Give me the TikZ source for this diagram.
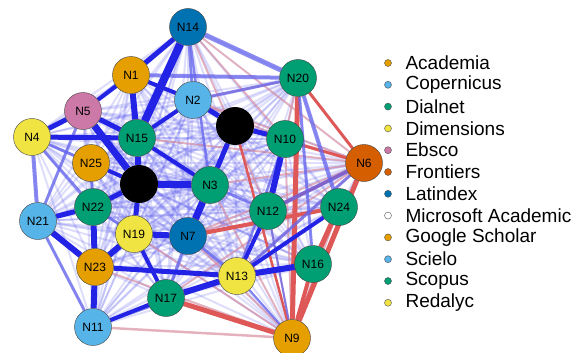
\documentclass[tikz,border=0pt]{standalone}
\usepackage{fontspec}
\setmainfont{Liberation Sans}
\usetikzlibrary{positioning}

\definecolor{gsorange}{HTML}{E69F00}
\definecolor{copblue}{HTML}{56B4E9}
\definecolor{dialgreen}{HTML}{009E73}
\definecolor{dimyellow}{HTML}{F0E442}
\definecolor{ebpink}{HTML}{CC79A7}
\definecolor{frorange}{HTML}{D55E00}
\definecolor{latblue}{HTML}{0072B2}
\definecolor{eblue}{RGB}{35,35,230}
\definecolor{ered}{RGB}{222,88,88}

\pgfdeclarelayer{links}
\pgfsetlayers{links,main}

\begin{document}
\begin{tikzpicture}[x=1pt,y=-1pt,
  db/.style={circle,draw=black!75,thin,minimum size=37pt,inner sep=0pt,font=\fontsize{12}{12}\selectfont},
  hub/.style={circle,fill=black,minimum size=38pt,inner sep=0pt},
  bl/.style={draw=eblue,line width=#1},
  lbl/.style={draw=eblue!70,line width=#1,opacity=0.75},
  rd/.style={draw=ered,line width=#1},
  lrd/.style={draw=ered!70,line width=#1,opacity=0.55},
  haze/.style={draw=eblue!75,line width=2pt,opacity=0.2},
  key/.style={circle,draw=black!70,thin,minimum size=7pt,inner sep=0pt},
  keytext/.style={anchor=west,font=\fontsize{19}{19}\selectfont}]
\useasboundingbox (0,0) rectangle (586,353);

% databases
\node[db,fill=gsorange] (n1) at (131,75) {N1};
\node[db,fill=copblue] (n2) at (193,100) {N2};
\node[db,fill=dialgreen] (n3) at (210,185) {N3};
\node[db,fill=dimyellow] (n4) at (32,137) {N4};
\node[db,fill=ebpink] (n5) at (83,111) {N5};
\node[db,fill=frorange] (n6) at (364,163) {N6};
\node[db,fill=latblue] (n7) at (188,236) {N7};
\node[db,fill=gsorange] (n9) at (292,338) {N9};
\node[db,fill=dialgreen] (n10) at (285,139) {N10};
\node[db,fill=copblue] (n11) at (93,327) {N11};
\node[db,fill=dialgreen] (n12) at (268,211) {N12};
\node[db,fill=dimyellow] (n13) at (237,276) {N13};
\node[db,fill=latblue] (n14) at (188,27) {N14};
\node[db,fill=dialgreen] (n15) at (137,138) {N15};
\node[db,fill=dialgreen] (n16) at (313,264) {N16};
\node[db,fill=dialgreen] (n17) at (166,298) {N17};
\node[db,fill=dimyellow] (n19) at (134,234) {N19};
\node[db,fill=dialgreen] (n20) at (298,78) {N20};
\node[db,fill=copblue] (n21) at (38,221) {N21};
\node[db,fill=dialgreen] (n22) at (93,207) {N22};
\node[db,fill=gsorange] (n23) at (95,267) {N23};
\node[db,fill=dialgreen] (n24) at (339,207) {N24};
\node[db,fill=gsorange] (n25) at (91,163) {N25};
\node[hub] (h1) at (235,126) {};
\node[hub] (h2) at (139,184) {};

\begin{pgfonlayer}{links}
% faint links between every pair
\foreach \i in {1,...,24} {
  \pgfmathtruncatemacro\k{\i+1}
  \foreach \j in {\k,...,25} {
    \ifnum\i=8 \else\ifnum\i=18 \else\ifnum\j=8 \else\ifnum\j=18 \else
      \draw[haze] (n\i) -- (n\j);
    \fi\fi\fi\fi
  }
}
\foreach \j in {1,2,3,4,5,6,7,9,10,11,12,13,14,15,16,17,19,20,21,22,23,24,25} {
  \draw[haze] (h1) -- (n\j);
  \draw[haze] (h2) -- (n\j);
}
\draw[haze] (h1) -- (h2);

% red links
\foreach \a/\b in {n6/n14,n6/n2,n6/n3,n6/n7,n6/n13,n6/n17,n6/n15,n9/n12,n9/n10,n9/n3,n9/n7,n9/n23,n9/n19,n20/n12,n14/n10,n20/n2,n2/n10,n14/n12,n24/n9,n10/n6,n7/n12}
  \draw[lrd=1.8pt] (\a) -- (\b);
\draw[lrd=2.5pt] (n11) -- (n9);
\draw[rd=3pt] (n20) -- (n6);
\draw[rd=3pt] (h1) -- (n6);
\draw[rd=2.5pt] (h1) -- (n9);
\draw[rd=3pt] (n12) -- (n6);
\draw[rd=4pt] (n7) -- (n24);
\draw[rd=5pt] (n20) -- (n9);
\draw[rd=5pt] (n6) -- (n9);
\draw[rd=5pt] (n24) -- (n16);
\draw[rd=5pt] (n17) -- (n9);
\draw[rd=4pt] (n16) -- (n9);

% lighter blue links
\foreach \a/\b/\w in {n14/n20/5pt,n1/n20/4pt,n20/n24/4pt,n6/n12/4pt,n6/n13/3pt,n21/n4/4pt,n21/n11/3pt,n7/n13/3pt,n2/n20/3pt,n14/n2/3pt,n4/n25/3pt,n22/n19/3pt,n13/n9/2pt,n12/n9/2pt,n11/n13/2pt,n20/n16/3pt,n25/n22/3pt,n4/n22/3pt,n14/n3/2.5pt,n14/n5/3pt,n5/n21/3pt,n10/n13/2.5pt,n3/n12/3pt,n7/n17/3pt}
  \draw[lbl=\w] (\a) -- (\b);

% strong blue links
\foreach \a/\b/\w in {n14/n15/8pt,n14/n1/5pt,n5/h2/7pt,n15/h2/6pt,n4/n5/5pt,n4/n15/5pt,n5/n15/5pt,n1/n15/6pt,n1/n5/4pt,h2/n3/7pt,n3/n7/7pt,n3/h1/5pt,n2/h1/5pt,h1/n10/5pt,n10/n12/6pt,n19/n7/6pt,h2/n19/5pt,n22/n23/6pt,n23/n11/6pt,n21/n23/6pt,n21/n22/5pt,n23/n19/6pt,n23/n13/5pt,n17/n13/6pt,n13/n16/6pt,n13/n12/4pt,n13/n24/4pt,n11/n17/4pt,n19/n17/4pt,n22/h2/5pt,n25/h2/4pt,n15/n3/4pt,n1/n2/4pt,n2/n15/4pt}
  \draw[bl=\w] (\a) -- (\b);
\end{pgfonlayer}

% legend
\foreach \col/\name [count=\r from 0] in {gsorange/Academia,copblue/Copernicus,dialgreen/Dialnet,dimyellow/Dimensions,ebpink/Ebsco,frorange/Frontiers,latblue/Latindex,white/Microsoft Academic,gsorange/Google Scholar,copblue/Scielo,dialgreen/Scopus,dimyellow/Redalyc} {
  \node[key,fill=\col] (k\r) at (388,63+21.8*\r) {};
  \node[keytext] (t\r) at (402,63+21.8*\r) {\name};
}

\end{tikzpicture}
\end{document}
